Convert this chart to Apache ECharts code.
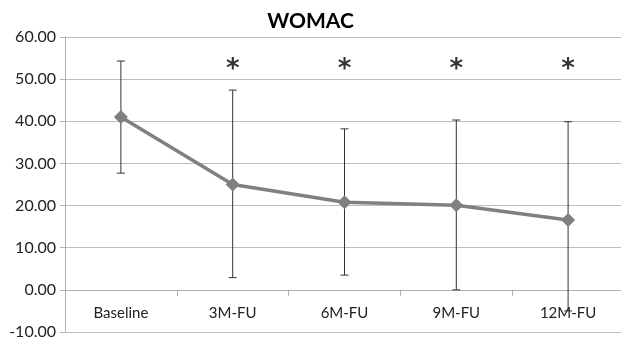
<!DOCTYPE html>
<html>
<head>
<meta charset="utf-8">
<script src="https://cdn.jsdelivr.net/npm/echarts@6/dist/echarts.min.js"></script>
<style>
  html, body { margin: 0; padding: 0; background: #fff; }
  #chart { width: 621px; height: 340px; }
</style>
</head>
<body>
<div id="chart"></div>
<script>
// WOMAC scores over follow-up
const categories = ['Baseline', '3M-FU', '6M-FU', '9M-FU', '12M-FU'];
const means = [41.0, 25.0, 20.8, 20.1, 16.6];
const upper = [54.3, 47.4, 38.2, 40.3, 39.9];
const lower = [27.7, 2.9, 3.5, 0.0, -5.0];
// asterisks mark significant change vs baseline
const starY = [null, 54, 54, 54, 54];
const yTicks = { min: -10, max: 60, interval: 10 };

const fontFamily = 'Lato, "Open Sans", sans-serif';

const chart = echarts.init(document.getElementById('chart'));

const errData = categories.map((c, i) => [i, lower[i], upper[i]]);
const starData = categories.map((c, i) => [i, starY[i]]).filter(d => d[1] != null);

const option = {
  animation: false,
  title: {
    text: 'WOMAC',
    left: 'center',
    top: 6,
    textStyle: { fontFamily, fontSize: 21, fontWeight: 'bold', color: '#000' }
  },
  grid: { left: 65, right: -3, top: 37, bottom: 8, containLabel: false, outerBoundsMode: 'none' },
  xAxis: {
    type: 'category',
    data: categories,
    boundaryGap: true,
    axisLine: { onZero: true, lineStyle: { color: '#b0b0b0', width: 1 } },
    axisTick: { show: true, length: 6, lineStyle: { color: '#b0b0b0' } },
    // labels sit between the zero line and -10
    axisLabel: { margin: -26, fontFamily, fontSize: 15, color: '#222' },
    splitLine: { show: false }
  },
  yAxis: {
    type: 'value',
    min: yTicks.min,
    max: yTicks.max,
    interval: yTicks.interval,
    axisLine: { show: true, lineStyle: { color: '#b0b0b0' } },
    axisTick: { show: true, length: 5, lineStyle: { color: '#b0b0b0' } },
    axisLabel: { margin: 9, fontFamily, fontSize: 16, color: '#222',
      formatter: v => v.toFixed(2) },
    splitLine: { show: true, lineStyle: { color: '#bdbdbd', width: 1 } }
  },
  series: [
    {
      type: 'custom',
      name: 'sd',
      data: errData,
      z: 1,
      renderItem: (params, api) => {
        const x = api.value(0);
        const lo = api.coord([x, api.value(1)]);
        const hi = api.coord([x, api.value(2)]);
        const w = 4;
        const style = { stroke: '#333', lineWidth: 1, fill: null };
        return {
          type: 'group',
          children: [
            { type: 'line', shape: { x1: lo[0], y1: lo[1], x2: hi[0], y2: hi[1] }, style },
            { type: 'line', shape: { x1: hi[0] - w, y1: hi[1], x2: hi[0] + w, y2: hi[1] }, style },
            { type: 'line', shape: { x1: lo[0] - w, y1: lo[1], x2: lo[0] + w, y2: lo[1] }, style }
          ]
        };
      }
    },
    {
      type: 'line',
      name: 'WOMAC',
      data: means,
      z: 3,
      symbol: 'diamond',
      symbolSize: 14,
      lineStyle: { color: '#808080', width: 3.5 },
      itemStyle: { color: '#808080' }
    },
    {
      type: 'scatter',
      name: 'sig',
      data: starData,
      symbolSize: 1,
      itemStyle: { color: 'rgba(0,0,0,0)' },
      label: {
        show: true,
        position: 'inside',
        formatter: '*',
        fontFamily: 'DejaVu Sans',
        fontSize: 26,
        fontWeight: 'bold',
        color: '#000',
        offset: [0, 8]
      }
    }
  ]
};

chart.setOption(option);
</script>
</body>
</html>
